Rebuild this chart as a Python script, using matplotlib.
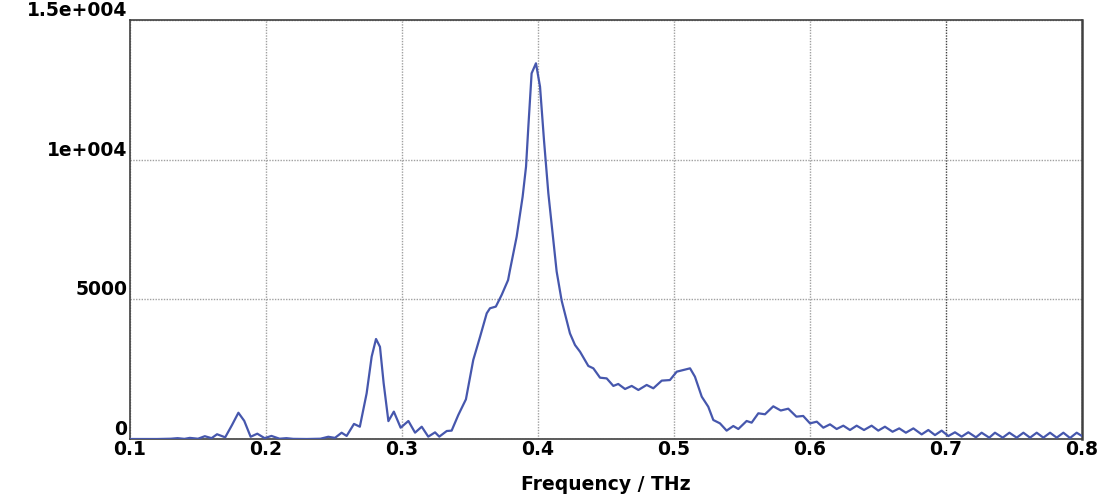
import matplotlib
matplotlib.use("Agg")
import matplotlib.pyplot as plt
from matplotlib.ticker import FixedLocator

freq = [0.100, 0.120, 0.130, 0.135, 0.140, 0.144, 0.150, 0.155, 0.160, 0.164,
        0.170, 0.175, 0.1797, 0.184, 0.1887, 0.1936, 0.199, 0.204, 0.210, 0.215,
        0.220, 0.230, 0.240, 0.2458, 0.2507, 0.2556, 0.2593, 0.2647, 0.269, 0.274,
        0.2777, 0.2809, 0.2838, 0.2865, 0.290, 0.294, 0.299, 0.3047, 0.3096, 0.3145,
        0.3193, 0.3243, 0.3274, 0.3329, 0.3365, 0.3414, 0.347, 0.3524, 0.3574, 0.3623,
        0.3647, 0.369, 0.3733, 0.378, 0.3794, 0.3843, 0.3887, 0.3912, 0.3929, 0.3953,
        0.3985, 0.4015, 0.4044, 0.4076, 0.4113, 0.4137, 0.4174, 0.4235, 0.4272, 0.4309,
        0.437, 0.4407, 0.4456, 0.4505, 0.4554, 0.459, 0.464, 0.4689, 0.4738, 0.4799,
        0.4848, 0.491, 0.497, 0.502, 0.5068, 0.5118, 0.5154, 0.5204, 0.5252, 0.5289,
        0.5338, 0.5387, 0.5436, 0.5473, 0.5534, 0.5571, 0.562, 0.5669, 0.573, 0.5785,
        0.584, 0.590, 0.595, 0.600, 0.605, 0.6098, 0.6147, 0.6196, 0.6245, 0.6294,
        0.6343, 0.6397, 0.6453, 0.6502, 0.6551, 0.6607, 0.6656, 0.6705, 0.676, 0.6821,
        0.687, 0.6919, 0.6968, 0.7017, 0.7066, 0.7115, 0.7164, 0.722, 0.7262, 0.7318,
        0.736, 0.7417, 0.7466, 0.752, 0.7569, 0.7618, 0.7667, 0.7716, 0.7765, 0.7814,
        0.7863, 0.7912, 0.7961, 0.800]

amp = [0, 0, 10, 30, 5, 40, 10, 100, 30, 170,
       60, 500, 940, 650, 80, 190, 30, 110, 10, 30,
       5, 0, 10, 80, 40, 225, 110, 540, 440, 1635,
       2950, 3580, 3300, 2000, 640, 980, 405, 645, 227, 440,
       84, 238, 84, 286, 300, 860, 1420, 2830, 3660, 4500,
       4680, 4740, 5160, 5690, 6050, 7240, 8675, 9750, 11180, 13090,
       13450, 12610, 10700, 8800, 7120, 6000, 4950, 3780, 3365, 3125,
       2615, 2530, 2195, 2170, 1900, 1970, 1790, 1900, 1755, 1935,
       1815, 2090, 2110, 2410, 2470, 2530, 2230, 1515, 1155, 680,
       560, 300, 465, 358, 645, 585, 920, 885, 1170, 1020,
       1085, 800, 825, 560, 620, 405, 525, 358, 477, 322,
       477, 322, 477, 300, 440, 260, 380, 225, 380, 165,
       322, 140, 300, 105, 240, 84, 240, 60, 225, 48,
       225, 48, 225, 48, 225, 48, 225, 48, 225, 48,
       225, 36, 225, 105]

xticks = [0.1, 0.2, 0.3, 0.4, 0.5, 0.6, 0.7, 0.8]
xticklabels = ["0.1", "0.2", "0.3", "0.4", "0.5", "0.6", "0.7", "0.8"]
yticks = [0, 5000, 10000, 15000]
yticklabels = ["0", "5000", "1e+004", "1.5e+004"]
xlabel = "Frequency / THz"

FS = 13.5

fig = plt.figure(figsize=(11.12, 5.0), dpi=100)
ax = fig.add_axes([130/1112, 1-439/500, (1082-130)/1112, (439-20)/500])

ax.plot(freq, amp, color="#4657ad", lw=1.6, solid_joinstyle="round", zorder=3)

ax.set_xlim(0.1, 0.8)
ax.set_ylim(0, 15000)
ax.xaxis.set_major_locator(FixedLocator(xticks))
ax.yaxis.set_major_locator(FixedLocator(yticks))
ax.set_xticklabels(xticklabels, fontsize=FS, fontweight="bold", family="DejaVu Sans")
ax.set_yticklabels(yticklabels, fontsize=FS, fontweight="bold", family="DejaVu Sans")
for lab in ax.get_yticklabels():
    lab.set_va("bottom")
ax.tick_params(axis="both", length=0, pad=2)
ax.tick_params(axis="x", pad=1)

ax.grid(True, color="#a0a0a0", linestyle=(0, (1, 1)), linewidth=1.0, zorder=1)
for gl, xv in zip(ax.get_xgridlines(), xticks):
    if abs(xv - 0.7) < 1e-9:
        gl.set_color("#404040")

for s in ax.spines.values():
    s.set_color("#404040")
    s.set_linewidth(1.2)
ax.spines["right"].set_linewidth(1.8)

ax.set_xlabel(xlabel, fontsize=FS, fontweight="bold", va="center")
ax.xaxis.set_label_coords(0.5, (439 - 485) / 419)

fig.savefig("out.png", dpi=100)
